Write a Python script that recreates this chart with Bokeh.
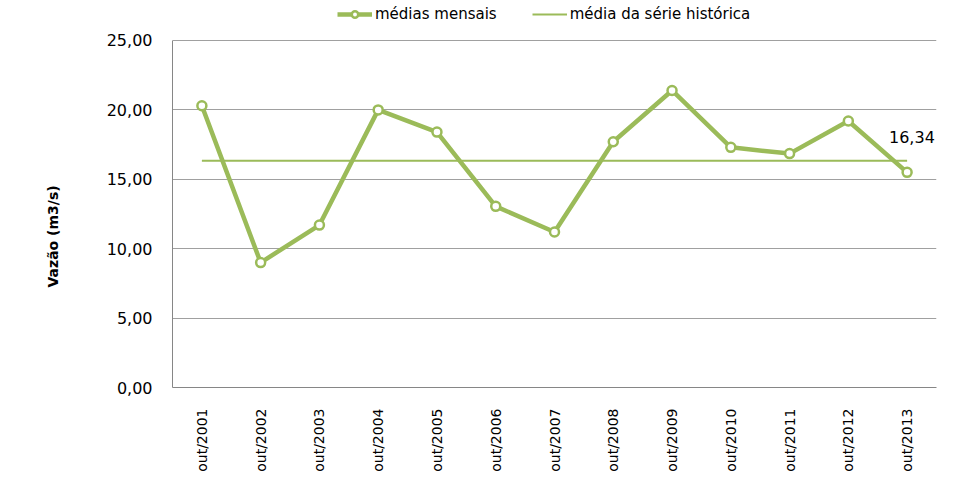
from bokeh.plotting import figure
from bokeh.models import Legend, LegendItem, FixedTicker, Range1d, Title
from bokeh.embed import file_html
from bokeh.resources import INLINE
import math

categories = ["out/2001", "out/2002", "out/2003", "out/2004", "out/2005", "out/2006", "out/2007",
              "out/2008", "out/2009", "out/2010", "out/2011", "out/2012", "out/2013"]
monthly_means = [20.3, 9.0, 11.7, 20.0, 18.4, 13.05, 11.2, 17.7, 21.4, 17.3, 16.85, 19.2, 15.5]
historic_mean = 16.34
y_ticks = [0, 5, 10, 15, 20, 25]
y_title = "Vazão (m3/s)"

GREEN = "#9BBB59"
FONT = "DejaVu Sans"

# the frame reaches the top of the canvas so that the legend (drawn inside it) is not clipped;
# the visible value scale stops at 25 (axis bounds / ticks)
Y_AXIS_MAX = 25
Y_VIEW_MAX = 27.88

p = figure(width=966, height=478, x_range=categories, y_range=Range1d(0, Y_VIEW_MAX),
           output_backend="svg", toolbar_location=None,
           min_border_left=172, min_border_right=30, min_border_top=0, min_border_bottom=91)
p.outline_line_color = None
p.background_fill_color = "white"
p.border_fill_color = "white"

mean_r = p.line(categories, [historic_mean] * len(categories), line_color=GREEN, line_width=2)
line_r = p.line(categories, monthly_means, line_color=GREEN, line_width=4.5, line_join="round")
pts_r = p.scatter(categories, monthly_means, marker="circle", size=9, fill_color="white",
                  line_color=GREEN, line_width=2.5)
# invisible carrier for the value label of the historic mean
dummy_r = p.scatter(categories[-1:], [historic_mean], marker="circle", size=1,
                    fill_alpha=0, line_alpha=0)

# axes
p.yaxis.ticker = FixedTicker(ticks=y_ticks)
p.yaxis.bounds = (0, Y_AXIS_MAX)
p.yaxis.major_label_overrides = {t: f"{t:.2f}".replace(".", ",") for t in y_ticks}
p.yaxis.major_label_text_font = FONT
p.yaxis.major_label_text_font_size = "16px"
p.yaxis.major_label_text_color = "#000000"
p.yaxis.major_label_standoff = 14
p.yaxis.major_tick_line_color = None
p.yaxis.minor_tick_line_color = None
p.yaxis.axis_line_color = "#868686"

# y axis title, centred on the visible 0..25 scale
p.add_layout(Title(text=y_title, align="left", offset=100, vertical_align="middle",
                   standoff=84, text_font=FONT, text_font_style="bold",
                   text_font_size="14px", text_color="#000000"), "left")

p.xaxis.major_label_orientation = math.pi / 2
p.xaxis.major_label_text_font = FONT
p.xaxis.major_label_text_font_size = "14px"
p.xaxis.major_label_text_color = "#000000"
p.xaxis.major_label_standoff = 15
p.xaxis.major_tick_line_color = None
p.xaxis.axis_line_color = "#868686"

p.xgrid.grid_line_color = None
p.ygrid.grid_line_color = "#A0A0A0"
p.ygrid.grid_line_width = 1

legend = Legend(items=[LegendItem(label="médias mensais", renderers=[line_r, pts_r]),
                       LegendItem(label="média da série histórica", renderers=[mean_r])],
                orientation="horizontal", location=(165, 364),
                label_text_font=FONT, label_text_font_size="15px", label_text_color="#000000",
                glyph_width=35, glyph_height=16, label_height=16, label_standoff=3, spacing=35,
                padding=0, margin=0, border_line_color=None, background_fill_alpha=0)
p.add_layout(legend)

value_label = Legend(items=[LegendItem(label=f"{historic_mean:.2f}".replace(".", ","), renderers=[dummy_r])],
                     location=(717, 240),
                     label_text_font=FONT, label_text_font_size="16px", label_text_color="#000000",
                     glyph_width=0, glyph_height=16, label_height=16, label_standoff=0,
                     padding=0, margin=0, border_line_color=None, background_fill_alpha=0)
p.add_layout(value_label)

open("out.html", "w").write(file_html(p, INLINE))
